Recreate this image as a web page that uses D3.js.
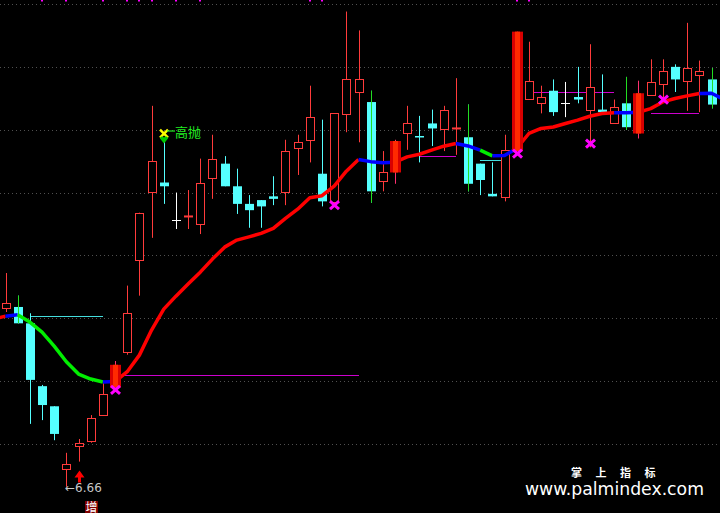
<!DOCTYPE html>
<html><head><meta charset="utf-8">
<script src="https://cdn.jsdelivr.net/npm/d3@7/dist/d3.min.js"></script>
<style>html,body{margin:0;padding:0;background:#000;overflow:hidden}</style>
</head><body>
<svg id="c" width="720" height="513"></svg>
<script>
// ---------- data ----------
const opens  = [8.08,8.09,7.96,7.46,7.30,6.80,6.99,7.03,7.23,7.45,7.73,8.47,9.00,9.08,8.78,8.81,8.75,9.12,9.23,9.05,8.91,8.94,8.97,9.00,9.35,9.42,9.15,8.92,9.62,9.80,9.72,9.09,9.16,9.47,9.45,9.55,9.51,9.51,9.44,9.23,8.99,8.97,9.33,9.75,9.71,9.81,9.71,9.76,9.66,9.66,9.55,9.71,9.47,9.78,9.87,10.00,9.89,9.94,9.90,9.65];
const closes = [8.12,7.96,7.51,7.31,7.08,6.84,7.01,7.21,7.40,7.63,8.04,8.84,9.25,9.05,8.78,8.81,9.08,9.27,9.05,8.91,8.86,8.89,8.95,9.33,9.40,9.60,8.93,9.63,9.90,9.90,9.01,9.16,9.41,9.55,9.44,9.51,9.66,9.51,9.07,9.10,8.97,9.34,10.28,9.89,9.76,9.64,9.71,9.74,9.84,9.64,9.68,9.52,9.79,9.88,9.97,9.90,9.99,9.97,9.70,9.40];
const highs  = [8.36,8.18,8.04,7.47,7.30,6.93,7.04,7.23,7.49,7.66,8.26,8.84,9.69,9.43,9.00,9.02,9.27,9.46,9.29,9.19,8.98,8.94,9.13,9.42,9.46,9.85,9.58,9.63,10.44,10.29,9.81,9.33,9.42,9.69,9.61,9.66,9.69,9.91,9.70,9.23,9.24,9.46,10.28,10.20,9.85,9.90,9.88,10.00,10.18,9.94,9.74,9.92,9.89,10.06,10.06,10.02,10.35,10.05,9.99,9.65];
const lows   = [8.05,7.96,7.16,7.19,7.03,6.66,6.86,7.01,7.23,7.45,7.71,8.18,8.64,8.91,8.71,8.71,8.67,8.95,9.05,8.83,8.72,8.72,8.90,8.90,9.14,9.24,8.89,8.91,9.48,9.40,8.92,9.01,9.07,9.34,9.24,9.37,9.33,9.30,9.01,8.98,8.97,8.93,9.33,9.75,9.63,9.61,9.60,9.71,9.36,9.64,9.55,9.50,9.43,9.78,9.74,9.80,9.65,9.64,9.67,9.40];
// u = hollow up, d = cyan down, s = solid signal up, w = white doji, r = red doji
const kinds = [
  "u","d","d","d","d","u","u","u","u","s",
  "u","u","u","d","w","r","u","u","d","d",
  "d","d","d","u","u","u","d","u","u","u",
  "d","u","s","u","d","d","u","r","d","d",
  "d","u","s","u","u","d","w","d","u","d",
  "u","d","s","u","u","d","u","u","d","d"
];
const greenWicks = [1,30,38,51,58];

// moving average (starts one bar before the first visible bar)
const maStart = -1;
const maValues = [7.994,8.017,8.029,7.970,7.890,7.779,7.654,7.556,7.517,7.493,7.497,7.575,7.707,7.906,8.073,8.176,8.272,8.367,8.471,8.566,8.622,8.648,8.675,8.715,8.794,8.868,8.959,8.975,9.051,9.170,9.263,9.246,9.238,9.242,9.284,9.305,9.337,9.369,9.390,9.371,9.337,9.292,9.295,9.351,9.470,9.510,9.522,9.549,9.576,9.607,9.629,9.634,9.634,9.639,9.668,9.721,9.748,9.769,9.788,9.790,9.742];
// trend of segment ending at each MA point (first entry unused)
const maTrend = "-rbgggggggbrrrrrrrrrrrrrrrrrrrrbbbrrrrrbbgbbrrrrrrrrbbrrrrrbb".split("");

const hLines = [
  {from:2,  to:8,  price:8.02, color:"#44dddd"},
  {from:9,  to:29, price:7.55, color:"#cc00cc"},
  {from:34, to:37, price:9.29, color:"#cc00cc"},
  {from:39, to:41, price:9.26, color:"#44dddd"},
  {from:43, to:50, price:9.80, color:"#cc00cc"},
  {from:53, to:57, price:9.63, color:"#cc00cc"}
];
const crossIdx   = [9, 27, 42, 48, 54];
const crossPrice = [7.43, 8.90, 9.31, 9.39, 9.74];
const topDots = [3,5,8,10,11,12,14,16,25,26,42,43];
const sellIdx = 13, sellLabel = "高抛";
const lowIdx = 5, lowLabel = "←6.66";
const arrowIdx = 6;
const zengIdx = 7, zengLabel = "增";
const gridTicks = [7,7.5,8,8.5,9,9.5,10,10.5];

// ---------- drawing ----------
const W = 720, H = 513;
const svg = d3.select("#c");
const x = d3.scaleLinear().domain([0, 58]).range([5.5, 711.5]);
const y = d3.scaleLinear().domain([7, 10.5]).range([444, 4]);
const cxOf = i => Math.round(x(i));
const col = {u:"#ff3b3b", d:"#55ffff", s:"#ff3070", w:"#ffffff", r:"#ff3b3b"};

svg.append("rect").attr("width", W).attr("height", H).attr("fill", "#000");

// grid
svg.append("g").selectAll("line").data(gridTicks).join("line")
  .attr("x1", 0).attr("x2", W)
  .attr("y1", d => Math.round(y(d)) + 0.5).attr("y2", d => Math.round(y(d)) + 0.5)
  .attr("stroke", "#505050").attr("stroke-dasharray", "1,3");

// top dots
svg.append("g").selectAll("rect").data(topDots).join("rect")
  .attr("x", d => cxOf(d) - 1).attr("y", 0).attr("width", 2).attr("height", 1.5)
  .attr("fill", "#ff00ff");

// horizontal signal lines
svg.append("g").selectAll("line").data(hLines).join("line")
  .attr("x1", d => cxOf(d.from)).attr("x2", d => cxOf(d.to))
  .attr("y1", d => Math.round(y(d.price)) + 0.5).attr("y2", d => Math.round(y(d.price)) + 0.5)
  .attr("stroke", d => d.color).attr("stroke-width", 1);

const idx = d3.range(opens.length);
const gC = svg.append("g");
// ordinary candles
idx.filter(i => kinds[i] !== "s").forEach(i => {
  const k = kinds[i], cx = cxOf(i);
  gC.append("line").attr("x1", cx + 0.5).attr("x2", cx + 0.5)
    .attr("y1", y(highs[i])).attr("y2", y(lows[i]))
    .attr("stroke", col[k]).attr("stroke-width", 1);
  if (k === "u") {
    gC.append("rect").attr("x", cx - 3.5).attr("width", 8)
      .attr("y", Math.round(y(closes[i])) + 0.5)
      .attr("height", Math.max(1, Math.round(y(opens[i]) - y(closes[i]))))
      .attr("fill", "#000").attr("stroke", col.u).attr("stroke-width", 1);
  } else if (k === "d") {
    gC.append("rect").attr("x", cx - 4).attr("width", 9)
      .attr("y", y(opens[i])).attr("height", Math.max(1.5, y(closes[i]) - y(opens[i])))
      .attr("fill", col.d);
  } else if (k === "w") {
    gC.append("line").attr("x1", cx - 4).attr("x2", cx + 5)
      .attr("y1", Math.round(y(opens[i])) + 0.5).attr("y2", Math.round(y(opens[i])) + 0.5)
      .attr("stroke", col.w);
  } else if (k === "r") {
    gC.append("rect").attr("x", cx - 4).attr("width", 9)
      .attr("y", y(opens[i]) - 1).attr("height", 2).attr("fill", col.r);
  }
});
// green wicks
greenWicks.forEach(i => {
  const cx = cxOf(i);
  gC.append("line").attr("x1", cx + 0.5).attr("x2", cx + 0.5)
    .attr("y1", y(highs[i])).attr("y2", y(lows[i]))
    .attr("stroke", "#22dd22").attr("stroke-width", 1);
});

// moving average, coloured by trend
const maColor = {r:"#ff0000", g:"#00ee00", b:"#0000ff"};
const maPts = maValues.map((v, j) => [x(j + maStart), y(v)]);
const runs = [];
for (let j = 1; j < maPts.length; j++) {
  const t = maTrend[j];
  if (runs.length && runs[runs.length - 1].t === t) runs[runs.length - 1].pts.push(maPts[j]);
  else runs.push({t, pts: [maPts[j - 1], maPts[j]]});
}
const line = d3.line();
svg.append("g").selectAll("path").data(runs).join("path")
  .attr("d", d => line(d.pts)).attr("fill", "none")
  .attr("stroke", d => maColor[d.t]).attr("stroke-width", 3.5)
  .attr("stroke-linejoin", "round").attr("stroke-linecap", "butt");

// solid signal candles on top
const gS = svg.append("g");
idx.filter(i => kinds[i] === "s").forEach(i => {
  const cx = cxOf(i);
  gS.append("line").attr("x1", cx + 0.5).attr("x2", cx + 0.5)
    .attr("y1", y(highs[i])).attr("y2", y(lows[i]))
    .attr("stroke", col.s);
  const top = y(closes[i]), h = y(opens[i]) - y(closes[i]);
  gS.append("rect").attr("x", cx - 5).attr("width", 11).attr("y", top).attr("height", h).attr("fill", "#d80000");
  gS.append("rect").attr("x", cx - 2).attr("width", 5).attr("y", top).attr("height", h).attr("fill", "#ff2a00");
});

// magenta crosses
const gX = svg.append("g");
crossIdx.forEach((i, j) => {
  const cx = cxOf(i) + 0.5, cy = y(crossPrice[j]);
  gX.append("path").attr("d", `M${cx-4.5},${cy-4} L${cx+4.5},${cy+4} M${cx+4.5},${cy-4} L${cx-4.5},${cy+4}`)
    .attr("stroke", "#ff00ff").attr("stroke-width", 3);
});

// sell marker
{
  const cx = cxOf(sellIdx), hy = y(highs[sellIdx]);
  const cy = hy - 5;
  svg.append("path").attr("d", `M${cx-4},${cy-4} L${cx+4},${cy+4} M${cx+4},${cy-4} L${cx-4},${cy+4}`)
    .attr("stroke", "#ffff00").attr("stroke-width", 2.5);
  svg.append("path")
    .attr("d", `M${cx-4},${hy} Q${cx-4},${hy-2.5} ${cx-1.5},${hy-2} L${cx},${hy-1} L${cx+1.5},${hy-2} Q${cx+4},${hy-2.5} ${cx+4},${hy} L${cx},${hy+5} Z`)
    .attr("fill", "#00c800");
  svg.append("line").attr("x1", cx + 3).attr("x2", cx + 11).attr("y1", cy - 2.5).attr("y2", cy - 2.5)
    .attr("stroke", "#22ee22").attr("stroke-width", 1.2);
  svg.append("text").attr("x", cx + 11).attr("y", cy + 3)
    .attr("font-family", "'Noto Sans CJK SC'").attr("font-size", 13)
    .attr("fill", "#22ee22").text(sellLabel);
}

// low label
{
  const cx = cxOf(lowIdx), ly = y(lows[lowIdx]);
  svg.append("text").attr("x", cx - 1).attr("y", ly + 5)
    .attr("font-family", "'DejaVu Sans'").attr("font-size", 12)
    .attr("fill", "#c8c8c8").text(lowLabel);
}
// red arrow
{
  const cx = cxOf(arrowIdx) + 0.5, ly = y(lows[arrowIdx]);
  svg.append("path").attr("d", `M${cx},${ly+9} L${cx+5},${ly+16} L${cx+1.5},${ly+16} L${cx+1.5},${ly+21} L${cx-1.5},${ly+21} L${cx-1.5},${ly+16} L${cx-5},${ly+16} Z`)
    .attr("fill", "#ff0000");
}
// 增 label
{
  const cx = cxOf(zengIdx);
  svg.append("rect").attr("x", cx - 6).attr("y", 501).attr("width", 13).attr("height", 12).attr("fill", "#800000");
  svg.append("text").attr("x", cx + 0.5).attr("y", 511.5).attr("text-anchor", "middle")
    .attr("font-family", "'Noto Sans CJK SC'").attr("font-size", 12)
    .attr("fill", "#ffffff").text(zengLabel);
}

// watermark
svg.append("text").attr("x", 571).attr("y", 476.5)
  .attr("font-family", "'Noto Sans CJK SC'").attr("font-weight", "bold").attr("font-size", 11)
  .attr("letter-spacing", 13.5).attr("fill", "#ffffff").text("掌上指标");
svg.append("text").attr("x", 525).attr("y", 494.5)
  .attr("font-family", "'DejaVu Sans'").attr("font-size", 17)
  .attr("textLength", 179).attr("lengthAdjust", "spacingAndGlyphs")
  .attr("fill", "#ffffff").text("www.palmindex.com");
</script>
</body></html>
